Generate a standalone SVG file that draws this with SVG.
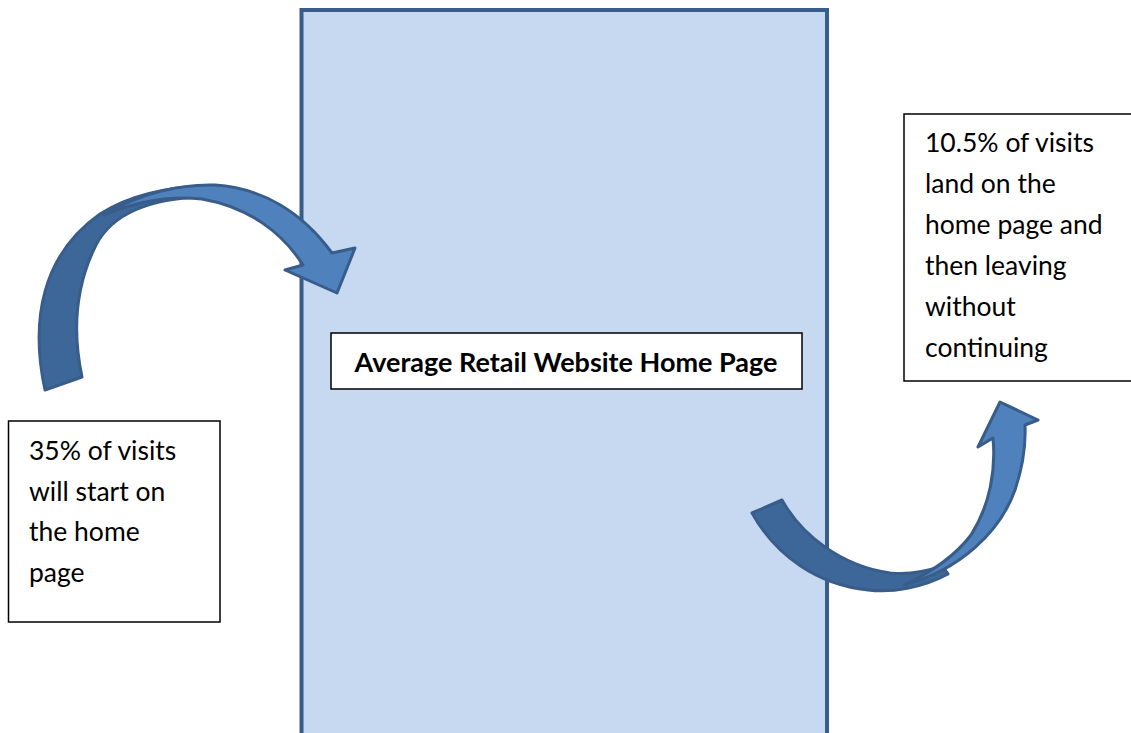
<svg xmlns="http://www.w3.org/2000/svg" width="1131" height="733" viewBox="0 0 1131 733">
  <style>
    .page { fill: #c6d9f1; stroke: #385d8a; stroke-width: 4; }
    .box { fill: #ffffff; stroke: #000000; stroke-width: 1.5; }
    .txt { font-family: Lato, "Open Sans", "Liberation Sans", sans-serif; font-size: 26.5px; fill: #000000; }
    .title { font-family: Lato, "Open Sans", "Liberation Sans", sans-serif; font-size: 27px; font-weight: bold; fill: #000000; }
    .back { fill: #3e6799; stroke: #385d8a; stroke-width: 3; stroke-linejoin: round; }
    .front { fill: #4f81bd; stroke: #385d8a; stroke-width: 3; stroke-linejoin: round; }
  </style>

  <rect width="1131" height="733" fill="#ffffff"/>

  <!-- home page panel -->
  <g id="home-page">
    <rect class="page" x="301.5" y="10" width="525.5" height="730"/>
  </g>

  <!-- curved arrows -->
  <g id="connectors">
    <g id="arrow-in">
      <path class="back" d="M45,390 C30,320 42,255 100,214 C130,195 165,187 207,186 L203,197 C150,198 112,214 96,245 C76,285 72,330 82,377 Z"/>
      <path class="front" d="M104,215 C140,193 180,184 215,185 C262,188 302,212 332,253 L355,248 L337,293 L285,270 L303,265 C282,232 248,207 202,199 C166,195 135,202 104,215 Z"/>
    </g>
    <g id="arrow-out">
      <path class="back" d="M752,513 L782,500 C802,536 842,566 890,573 C910,575 925,572 942,566 L948,574 C922,588 892,593 868,590 C818,585 776,556 752,513 Z"/>
      <path class="front" d="M904,585 C960,570 1000,532 1015,490 C1023,466 1026,446 1025,425 L1038,420 L1000,402 L978,447 L993,438 C996,470 990,505 971,535 C955,556 934,571 904,585 Z"/>
    </g>
  </g>

  <g id="title-node">
    <rect class="box" x="331" y="333" width="471" height="56"/>
    <text class="title" x="566" y="372" text-anchor="middle">Average Retail Website Home Page</text>
  </g>

  <g id="entry-node">
    <rect class="box" x="8.5" y="421" width="211.5" height="201"/>
    <text class="txt" x="29">
      <tspan x="29" y="460">35% of visits</tspan>
      <tspan x="29" y="500.5">will start on</tspan>
      <tspan x="29" y="541">the home</tspan>
      <tspan x="29" y="581.5">page</tspan>
    </text>
  </g>

  <g id="exit-node">
    <rect class="box" x="904" y="114" width="232" height="267"/>
    <text class="txt" x="925">
      <tspan x="925" y="152">10.5% of visits</tspan>
      <tspan x="925" y="193">land on the</tspan>
      <tspan x="925" y="234">home page and</tspan>
      <tspan x="925" y="275">then leaving</tspan>
      <tspan x="925" y="316">without</tspan>
      <tspan x="925" y="357">continuing</tspan>
    </text>
  </g>
</svg>
